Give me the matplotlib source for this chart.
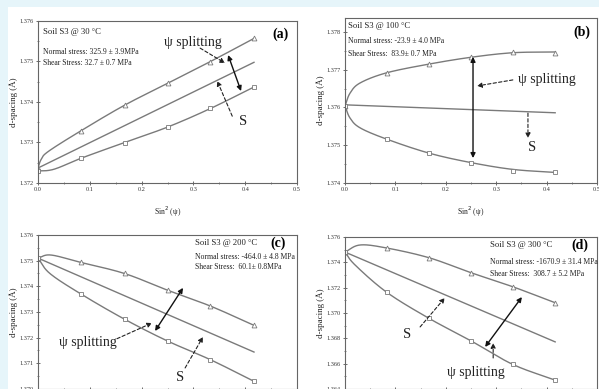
import numpy as np
import matplotlib
matplotlib.use('Agg')
import matplotlib.pyplot as plt
from matplotlib.patches import Rectangle
from matplotlib.ticker import MultipleLocator, FormatStrFormatter

# ---------------- data ----------------
sin2psi = [0.0, 0.083, 0.167, 0.25, 0.333, 0.417]

# (a) 30 C
a_tri = [1.37237, 1.37329, 1.37392, 1.37446, 1.37500, 1.37557]
a_sq = [1.37230, 1.37261, 1.37300, 1.37338, 1.37384, 1.37437]
a_up_x = [0.0, 0.006, 0.02, 0.083, 0.167, 0.25, 0.333, 0.417]
a_up = [1.37237, 1.37258, 1.37278, 1.37329, 1.37392, 1.37446, 1.37500, 1.37557]
a_lo_x = [0.0, 0.02, 0.04, 0.083, 0.167, 0.25, 0.333, 0.417]
a_lo = [1.37230, 1.37231, 1.37238, 1.37261, 1.37300, 1.37338, 1.37384, 1.37437]
a_mid_x = [0.0, 0.417]
a_mid = [1.37237, 1.37498]

# (b) 100 C
b_tri = [1.37604, 1.37692, 1.37715, 1.37733, 1.37748, 1.37745]
b_sq = [1.37604, 1.37516, 1.37479, 1.37454, 1.37432, 1.37428]
b_up_x = [0.0, 0.01, 0.03, 0.083, 0.167, 0.25, 0.333, 0.417]
b_up = [1.37604, 1.37638, 1.37665, 1.37692, 1.37715, 1.37733, 1.37745, 1.37747]
b_lo_x = [0.0, 0.01, 0.03, 0.083, 0.167, 0.25, 0.333, 0.417]
b_lo = [1.37604, 1.37572, 1.37546, 1.37516, 1.37479, 1.37454, 1.37436, 1.37428]
b_mid_x = [0.0, 0.417]
b_mid = [1.37607, 1.37586]

# (c) 200 C
c_tri = [1.37510, 1.37493, 1.37450, 1.37385, 1.37323, 1.37248]
c_sq = [1.37510, 1.37370, 1.37272, 1.37187, 1.37114, 1.37030]
c_up_x = [0.0, 0.025, 0.083, 0.167, 0.25, 0.333, 0.417]
c_up = [1.37510, 1.37522, 1.37493, 1.37450, 1.37385, 1.37323, 1.37248]
c_lo_x = [0.0, 0.023, 0.083, 0.167, 0.25, 0.333, 0.417]
c_lo = [1.37510, 1.37450, 1.37370, 1.37272, 1.37187, 1.37114, 1.37030]
c_mid_x = [0.0, 0.417]
c_mid = [1.37510, 1.37144]

# (d) 300 C
d_tri = [1.37481, 1.37513, 1.37436, 1.37318, 1.37207, 1.37081]
d_sq = [1.37481, 1.37163, 1.36957, 1.36780, 1.36594, 1.36470]
d_up_x = [0.0, 0.03, 0.083, 0.167, 0.25, 0.333, 0.417]
d_up = [1.37481, 1.37537, 1.37513, 1.37436, 1.37318, 1.37207, 1.37081]
d_lo_x = [0.0, 0.02, 0.083, 0.167, 0.25, 0.333, 0.417]
d_lo = [1.37481, 1.37379, 1.37163, 1.36957, 1.36780, 1.36594, 1.36470]
d_mid_x = [0.0, 0.417]
d_mid = [1.37481, 1.36772]

x_ticks = [0.0, 0.1, 0.2, 0.3, 0.4, 0.5]

# ---------------- helpers ----------------
W, H = 599, 389
BG = '#e6f5fa'
LC = '#7a7a7a'
SERIF = ['Liberation Serif', 'DejaVu Serif']


def smooth(x, y, n=24):
    """Catmull-Rom rendering through the given points."""
    x = np.asarray(x, float)
    y = np.asarray(y, float)
    px = np.concatenate([[2 * x[0] - x[1]], x, [2 * x[-1] - x[-2]]])
    py = np.concatenate([[2 * y[0] - y[1]], y, [2 * y[-1] - y[-2]]])
    xs, ys = [], []
    for i in range(1, len(px) - 2):
        t = np.linspace(0, 1, n, endpoint=False)
        for arr, out in ((px, xs), (py, ys)):
            p0, p1, p2, p3 = arr[i - 1], arr[i], arr[i + 1], arr[i + 2]
            out.append(0.5 * ((2 * p1) + (-p0 + p2) * t +
                              (2 * p0 - 5 * p1 + 4 * p2 - p3) * t ** 2 +
                              (-p0 + 3 * p1 - 3 * p2 + p3) * t ** 3))
    xs.append([x[-1]])
    ys.append([y[-1]])
    return np.concatenate(xs), np.concatenate(ys)


def pos(l, r, t, b):
    return [l / W, 1 - b / H, (r - l) / W, (b - t) / H]


def setup(ax, ylo, yhi, ymaj, xlabel=True):
    ax.set_xlim(0, 0.5)
    ax.set_ylim(ylo, yhi)
    ax.set_xticks(x_ticks)
    ax.xaxis.set_minor_locator(MultipleLocator(0.05))
    ax.yaxis.set_major_locator(MultipleLocator(ymaj))
    ax.yaxis.set_minor_locator(MultipleLocator(ymaj / 2))
    ax.xaxis.set_major_formatter(FormatStrFormatter('%.1f'))
    ax.yaxis.set_major_formatter(FormatStrFormatter('%.3f'))
    ax.tick_params(which='major', direction='inout', length=3, width=0.6,
                   labelsize=4.5, pad=1.5, colors='#555555', labelcolor='#333333')
    ax.tick_params(which='minor', direction='inout', length=2, width=0.5,
                   colors='#555555')
    for lab in ax.get_xticklabels() + ax.get_yticklabels():
        lab.set_fontfamily(SERIF)
    for s in ax.spines.values():
        s.set_color('#666666')
        s.set_linewidth(0.8)
    ax.set_ylabel('d-spacing (Å)', fontsize=6.5, family=SERIF, labelpad=1, color='#222222')
    if xlabel:
        ax.set_xlabel('Sin$^2$ (ψ)', fontsize=5.5, family=SERIF, labelpad=9, color='#222222')
    else:
        ax.tick_params(axis='x', labelbottom=False)


def draw(ax, tri, sq, ux, uy, lx, ly, mx, my):
    sx, sy = smooth(ux, uy)
    ax.plot(sx, sy, color=LC, lw=1.0)
    sx, sy = smooth(lx, ly)
    ax.plot(sx, sy, color=LC, lw=1.0)
    ax.plot(mx, my, color=LC, lw=1.0)
    ax.plot(sin2psi, tri, ls='none', marker='^', ms=3.5, mfc='white', mec=LC, mew=0.6)
    ax.plot(sin2psi, sq, ls='none', marker='s', ms=3.0, mfc='white', mec=LC, mew=0.6)


def info(ax, x, ys, lines, lab, labxy):
    for i, (y, t) in enumerate(zip(ys, lines)):
        ax.text(x, y, t, transform=ax.transAxes, fontsize=6.2 if i == 0 else 5.5,
                family=SERIF, va='center', ha='left', color='#222222')
    ax.text(labxy[0], labxy[1], lab, transform=ax.transAxes, fontsize=10,
            family=SERIF, weight='bold', va='center', ha='center')


def dashed(ax, start, end):
    ax.annotate('', xy=end, xytext=start,
                arrowprops=dict(arrowstyle='-|>', linestyle=(0, (3, 2)), color='#222222',
                                lw=0.8, mutation_scale=7, shrinkA=0, shrinkB=0))


def solid2(ax, start, end):
    ax.annotate('', xy=end, xytext=start,
                arrowprops=dict(arrowstyle='<|-|>', color='#111111',
                                lw=1.0, mutation_scale=7, shrinkA=0, shrinkB=0))


def label(ax, xy, t, size):
    ax.text(xy[0], xy[1], t, fontsize=size, family=SERIF, ha='center', va='center',
            color='#222222')


# ---------------- figure ----------------
fig = plt.figure(figsize=(W / 100, H / 100), dpi=100, facecolor=BG)
fig.add_artist(Rectangle((8 / W, 0), 1, 1 - 7 / H, transform=fig.transFigure,
                         facecolor='white', edgecolor='none', zorder=-10))

# (a)
ax = fig.add_axes(pos(38, 297, 21, 183))
setup(ax, 1.372, 1.376, 0.001)
draw(ax, a_tri, a_sq, a_up_x, a_up, a_lo_x, a_lo, a_mid_x, a_mid)
info(ax, 0.02, [0.932, 0.809, 0.741],
     ['Soil S3 @ 30 °C', 'Normal stress: 325.9 ± 3.9MPa', 'Shear Stress: 32.7 ± 0.7 MPa'],
     '(a)', (0.938, 0.92))
label(ax, (0.299, 1.37548), 'ψ splitting', 10)
dashed(ax, (0.313, 1.37533), (0.361, 1.37496))
solid2(ax, (0.367, 1.37516), (0.392, 1.37427))
label(ax, (0.396, 1.37351), 'S', 10.5)
dashed(ax, (0.375, 1.37365), (0.346, 1.37452))

# (b)
ax = fig.add_axes(pos(345, 597, 18, 183))
setup(ax, 1.374, 1.37837, 0.001)
draw(ax, b_tri, b_sq, b_up_x, b_up, b_lo_x, b_lo, b_mid_x, b_mid)
info(ax, 0.012, [0.952, 0.861, 0.782],
     ['Soil S3 @ 100 °C', 'Normal stress: -23.9 ± 4.0 MPa', 'Shear Stress:  83.9± 0.7 MPa'],
     '(b)', (0.94, 0.915))
label(ax, (0.401, 1.37673), 'ψ splitting', 10)
dashed(ax, (0.333, 1.37673), (0.262, 1.37657))
solid2(ax, (0.254, 1.37734), (0.254, 1.37466))
label(ax, (0.371, 1.37493), 'S', 10.5)
dashed(ax, (0.363, 1.37585), (0.363, 1.37519))

# (c)
ax = fig.add_axes(pos(38, 297, 235, 389))
setup(ax, 1.370, 1.376, 0.001, xlabel=False)
draw(ax, c_tri, c_sq, c_up_x, c_up, c_lo_x, c_lo, c_mid_x, c_mid)
info(ax, 0.606, [0.945, 0.86, 0.79],
     ['Soil S3 @ 200 °C', 'Normal stress: -464.0 ± 4.8 MPa', 'Shear Stress:  60.1± 0.8MPa'],
     '(c)', (0.927, 0.945))
label(ax, (0.0965, 1.37183), 'ψ splitting', 10)
dashed(ax, (0.1525, 1.37196), (0.22, 1.37257))
solid2(ax, (0.226, 1.37226), (0.28, 1.37394))
label(ax, (0.274, 1.37043), 'S', 10.5)
dashed(ax, (0.284, 1.37082), (0.3185, 1.37203))

# (d)
ax = fig.add_axes(pos(345, 597, 237, 389))
setup(ax, 1.364, 1.376, 0.002, xlabel=False)
draw(ax, d_tri, d_sq, d_up_x, d_up, d_lo_x, d_lo, d_mid_x, d_mid)
info(ax, 0.575, [0.947, 0.835, 0.757],
     ['Soil S3 @ 300 °C', 'Normal stress: -1670.9 ± 31.4 MPa', 'Shear Stress:  308.7 ± 5.2 MPa'],
     '(d)', (0.933, 0.947))
label(ax, (0.123, 1.36827), 'S', 10.5)
dashed(ax, (0.149, 1.36890), (0.198, 1.37119))
solid2(ax, (0.278, 1.36732), (0.351, 1.37126))
label(ax, (0.26, 1.36534), 'ψ splitting', 10)
dashed(ax, (0.294, 1.36645), (0.294, 1.36763))

fig.savefig('out.png', dpi=100, facecolor=BG)
